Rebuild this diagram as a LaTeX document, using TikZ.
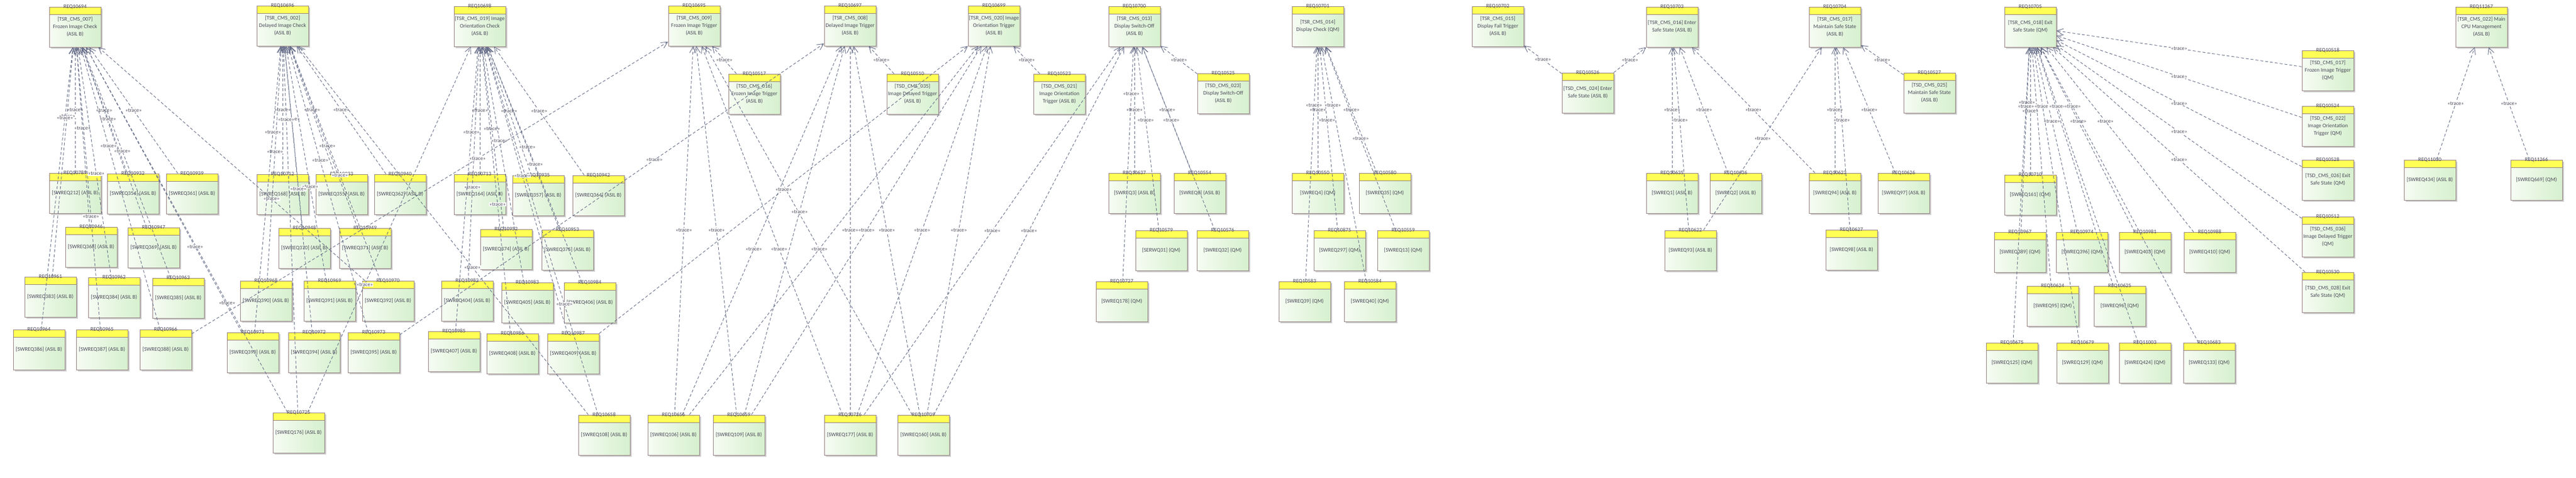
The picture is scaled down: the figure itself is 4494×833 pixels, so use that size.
\documentclass[tikz,border=0pt]{standalone}
\usepackage{fontspec}
\setmainfont{Carlito}
\usetikzlibrary{arrows.meta,shadows}
\definecolor{headyellow}{RGB}{255,255,85}
\definecolor{bodyL}{RGB}{246,252,243}
\definecolor{bodyR}{RGB}{214,240,206}
\definecolor{boxborder}{RGB}{150,130,130}
\definecolor{shadowgray}{RGB}{200,200,200}
\definecolor{edgecol}{RGB}{100,108,135}
\definecolor{txt}{RGB}{75,75,90}
\tikzset{
  reqbox/.style={rectangle, minimum width=90pt, minimum height=70pt, inner sep=0pt,
    draw=boxborder, line width=1pt, left color=bodyL, right color=bodyR,
    drop shadow={shadow xshift=3pt, shadow yshift=-3pt, fill=shadowgray, opacity=0.9},
    path picture={
      \fill[headyellow] (path picture bounding box.north west) rectangle ([yshift=-13pt]path picture bounding box.north east);
      \draw[boxborder, line width=1pt] ([yshift=-13pt]path picture bounding box.north west) -- ([yshift=-13pt]path picture bounding box.north east);
    }},
  ttl/.style={font=\fontsize{9.5}{11}\selectfont, text=txt, anchor=center, yshift=-0.5pt, inner sep=0pt},
  bdy/.style={font=\fontsize{9.5}{13}\selectfont, text=txt, anchor=center, yshift=-35pt, inner sep=0pt, align=center},
  trace/.style={draw=edgecol, line width=0.9pt, dash pattern=on 5pt off 3.5pt,
    -{Straight Barb[length=11pt, width=11pt, line width=0.9pt]}},
  tl/.style={font=\fontsize{9.2}{10}\selectfont, text=txt, fill=white, inner sep=0.6pt}
}
\newcommand{\req}[5]{\node[reqbox, label={[ttl]north:#1}, label={[bdy]north:{#5}}] (#2) at ({#3+45},{-#4-35}) {};}
\newcommand{\tr}[3][0.5]{\draw[trace] (#2) -- node[tl, pos=#1]{«trace»} (#3);}
\begin{document}
\begin{tikzpicture}[x=1pt, y=1pt]
\fill[white] (0,0) rectangle (4494,-833);
\useasboundingbox (0,0) rectangle (4494,-833);
% ---------- group A
\req{REQ10694}{r10694}{86}{12}{[TSR\_CMS\_007]\\Frozen Image Check\\(ASIL B)}
\req{REQ10789}{r10789}{86}{302}{[SWREQ212] (ASIL B)}
\req{REQ10932}{r10932}{187}{303}{[SWREQ354] (ASIL B)}
\req{REQ10939}{r10939}{290}{303}{[SWREQ361] (ASIL B)}
\req{REQ10946}{r10946}{114}{396}{[SWREQ368] (ASIL B)}
\req{REQ10947}{r10947}{223}{397}{[SWREQ369] (ASIL B)}
\req{REQ10961}{r10961}{43}{483}{[SWREQ383] (ASIL B)}
\req{REQ10962}{r10962}{154}{484}{[SWREQ384] (ASIL B)}
\req{REQ10963}{r10963}{266}{485}{[SWREQ385] (ASIL B)}
\req{REQ10964}{r10964}{23}{575}{[SWREQ386] (ASIL B)}
\req{REQ10965}{r10965}{133}{575}{[SWREQ387] (ASIL B)}
\req{REQ10966}{r10966}{244}{575}{[SWREQ388] (ASIL B)}
% ---------- group B
\req{REQ10696}{r10696}{448}{10}{[TSR\_CMS\_002]\\Delayed Image Check\\(ASIL B)}
\req{REQ10712}{r10712}{448}{304}{[SWREQ168] (ASIL B)}
\req{REQ10933}{r10933}{551}{304}{[SWREQ355] (ASIL B)}
\req{REQ10940}{r10940}{653}{304}{[SWREQ362] (ASIL B)}
\req{REQ10948}{r10948}{486}{398}{[SWREQ370] (ASIL B)}
\req{REQ10949}{r10949}{592}{398}{[SWREQ371] (ASIL B)}
\req{REQ10968}{r10968}{419}{490}{[SWREQ390] (ASIL B)}
\req{REQ10969}{r10969}{530}{490}{[SWREQ391] (ASIL B)}
\req{REQ10970}{r10970}{632}{490}{[SWREQ392] (ASIL B)}
\req{REQ10971}{r10971}{396}{580}{[SWREQ393] (ASIL B)}
\req{REQ10972}{r10972}{503}{580}{[SWREQ394] (ASIL B)}
\req{REQ10973}{r10973}{607}{580}{[SWREQ395] (ASIL B)}
\req{REQ10725}{r10725}{476}{720}{[SWREQ176] (ASIL B)}
% ---------- group C
\req{REQ10698}{r10698}{792}{11}{[TSR\_CMS\_019] Image\\Orientation Check\\(ASIL B)}
\req{REQ10713}{r10713}{792}{304}{[SWREQ164] (ASIL B)}
\req{REQ10935}{r10935}{894}{306}{[SWREQ357] (ASIL B)}
\req{REQ10942}{r10942}{999}{306}{[SWREQ364] (ASIL B)}
\req{REQ10952}{r10952}{838}{400}{[SWREQ374] (ASIL B)}
\req{REQ10953}{r10953}{945}{401}{[SWREQ375] (ASIL B)}
\req{REQ10982}{r10982}{770}{490}{[SWREQ404] (ASIL B)}
\req{REQ10983}{r10983}{875}{493}{[SWREQ405] (ASIL B)}
\req{REQ10984}{r10984}{984}{493}{[SWREQ406] (ASIL B)}
\req{REQ10985}{r10985}{747}{578}{[SWREQ407] (ASIL B)}
\req{REQ10986}{r10986}{849}{582}{[SWREQ408] (ASIL B)}
\req{REQ10987}{r10987}{955}{582}{[SWREQ409] (ASIL B)}
% ---------- triggers
\req{REQ10695}{r10695}{1166}{10}{[TSR\_CMS\_009]\\Frozen Image Trigger\\(ASIL B)}
\req{REQ10517}{r10517}{1271}{129}{[TSD\_CMS\_016]\\Frozen Image Trigger\\(ASIL B)}
\req{REQ10697}{r10697}{1438}{10}{[TSR\_CMS\_008]\\Delayed Image Trigger\\(ASIL B)}
\req{REQ10510}{r10510}{1547}{129}{[TSD\_CMS\_035]\\Image Delayed Trigger\\(ASIL B)}
\req{REQ10699}{r10699}{1689}{10}{[TSR\_CMS\_020] Image\\Orientation Trigger\\(ASIL B)}
\req{REQ10523}{r10523}{1803}{129}{[TSD\_CMS\_021]\\Image Orientation\\Trigger (ASIL B)}
\req{REQ10658}{r10658}{1009}{724}{[SWREQ108] (ASIL B)}
\req{REQ10656}{r10656}{1130}{724}{[SWREQ106] (ASIL B)}
\req{REQ10659}{r10659}{1244}{724}{[SWREQ109] (ASIL B)}
\req{REQ10726}{r10726}{1438}{724}{[SWREQ177] (ASIL B)}
\req{REQ10709}{r10709}{1566}{724}{[SWREQ160] (ASIL B)}
% ---------- display switch-off / check
\req{REQ10700}{r10700}{1934}{11}{[TSR\_CMS\_013]\\Display Switch-Off\\(ASIL B)}
\req{REQ10525}{r10525}{2089}{128}{[TSD\_CMS\_023]\\Display Switch-Off\\(ASIL B)}
\req{REQ10637}{r10637}{1934}{302}{[SWREQ3] (ASIL B)}
\req{REQ10554}{r10554}{2048}{302}{[SWREQ8] (ASIL B)}
\req{REQ10579}{r10579}{1981}{402}{[SERWQ31] (QM)}
\req{REQ10576}{r10576}{2088}{402}{[SWREQ32] (QM)}
\req{REQ10727}{r10727}{1912}{491}{[SWREQ178] (QM)}
\req{REQ10701}{r10701}{2254}{11}{[TSR\_CMS\_014]\\Display Check (QM)}
\req{REQ10550}{r10550}{2254}{302}{[SWREQ4] (QM)}
\req{REQ10580}{r10580}{2371}{302}{[SWREQ35] (QM)}
\req{REQ10875}{r10875}{2292}{402}{[SWREQ297] (QM)}
\req{REQ10559}{r10559}{2403}{402}{[SWREQ13] (QM)}
\req{REQ10583}{r10583}{2231}{491}{[SWREQ39] (QM)}
\req{REQ10584}{r10584}{2345}{491}{[SWREQ40] (QM)}
% ---------- safe state
\req{REQ10702}{r10702}{2568}{11}{[TSR\_CMS\_015]\\Display Fail Trigger\\(ASIL B)}
\req{REQ10526}{r10526}{2725}{127}{[TSD\_CMS\_024] Enter\\Safe State (ASIL B)}
\req{REQ10703}{r10703}{2872}{12}{[TSR\_CMS\_016] Enter\\Safe State (ASIL B)}
\req{REQ10635}{r10635}{2872}{302}{[SWREQ1] (ASIL B)}
\req{REQ10622}{r10622}{2904}{402}{[SWREQ93] (ASIL B)}
\req{REQ10704}{r10704}{3156}{12}{[TSR\_CMS\_017]\\Maintain Safe State\\(ASIL B)}
\req{REQ10527}{r10527}{3321}{127}{[TSD\_CMS\_025]\\Maintain Safe State\\(ASIL B)}
\req{REQ10636}{r10636}{2983}{302}{[SWREQ2] (ASIL B)}
\req{REQ10623}{r10623}{3156}{302}{[SWREQ94] (ASIL B)}
\req{REQ10626}{r10626}{3276}{302}{[SWREQ97] (ASIL B)}
\req{REQ10627}{r10627}{3185}{401}{[SWREQ98] (ASIL B)}
% ---------- exit safe state
\req{REQ10705}{r10705}{3497}{12}{[TSR\_CMS\_018] Exit\\Safe State (QM)}
\req{REQ10710}{r10710}{3497}{305}{[SWREQ161] (QM)}
\req{REQ10967}{r10967}{3479}{405}{[SWREQ389] (QM)}
\req{REQ10974}{r10974}{3587}{405}{[SWREQ396] (QM)}
\req{REQ10981}{r10981}{3697}{405}{[SWREQ403] (QM)}
\req{REQ10988}{r10988}{3810}{405}{[SWREQ410] (QM)}
\req{REQ10624}{r10624}{3536}{499}{[SWREQ95] (QM)}
\req{REQ10625}{r10625}{3653}{499}{[SWREQ96] (QM)}
\req{REQ10675}{r10675}{3465}{598}{[SWREQ125] (QM)}
\req{REQ10679}{r10679}{3588}{598}{[SWREQ129] (QM)}
\req{REQ11003}{r11003}{3697}{598}{[SWREQ424] (QM)}
\req{REQ10683}{r10683}{3809}{598}{[SWREQ133] (QM)}
\req{REQ10518}{r10518}{4016}{88}{[TSD\_CMS\_017]\\Frozen Image Trigger\\(QM)}
\req{REQ10524}{r10524}{4016}{185}{[TSD\_CMS\_022]\\Image Orientation\\Trigger (QM)}
\req{REQ10528}{r10528}{4016}{279}{[TSD\_CMS\_026] Exit\\Safe State (QM)}
\req{REQ10512}{r10512}{4016}{378}{[TSD\_CMS\_036]\\Image Delayed Trigger\\(QM)}
\req{REQ10530}{r10530}{4016}{475}{[TSD\_CMS\_028] Exit\\Safe State (QM)}
% ---------- CPU management
\req{REQ11267}{r11267}{4284}{12}{[TSR\_CMS\_022] Main\\CPU Management\\(ASIL B)}
\req{REQ11030}{r11030}{4194}{279}{[SWREQ434] (ASIL B)}
\req{REQ11266}{r11266}{4380}{279}{[SWREQ669] (QM)}
% ================= connectors
% to REQ10694
\tr{r10789}{r10694}
\tr{r10932}{r10694}
\tr{r10939}{r10694}
\tr[0.55]{r10946}{r10694}
\tr[0.6]{r10947}{r10694}
\tr[0.7]{r10961}{r10694}
\tr[0.45]{r10962}{r10694}
\tr[0.55]{r10963}{r10694}
\tr[0.75]{r10964}{r10694}
\tr[0.4]{r10965}{r10694}
\tr[0.65]{r10966}{r10694}
\tr[0.3]{r10725}{r10694}
\tr[0.35]{r10970}{r10694}
\tr[0.3]{r10971}{r10694}
% to REQ10696
\tr{r10712}{r10696}
\tr{r10933}{r10696}
\tr{r10940}{r10696}
\tr[0.6]{r10948}{r10696}
\tr[0.45]{r10949}{r10696}
\tr[0.55]{r10968}{r10696}
\tr[0.4]{r10969}{r10696}
\tr[0.7]{r10971}{r10696}
\tr[0.5]{r10972}{r10696}
\tr[0.6]{r10973}{r10696}
\tr[0.8]{r10725}{r10696}
\tr[0.45]{r10970}{r10696}
\tr[0.4]{r10658}{r10696}
% to REQ10698
\tr{r10713}{r10698}
\tr{r10935}{r10698}
\tr{r10942}{r10698}
\tr[0.55]{r10952}{r10698}
\tr[0.45]{r10953}{r10698}
\tr[0.4]{r10982}{r10698}
\tr[0.6]{r10983}{r10698}
\tr[0.5]{r10984}{r10698}
\tr[0.7]{r10985}{r10698}
\tr[0.45]{r10986}{r10698}
\tr[0.55]{r10987}{r10698}
\tr[0.35]{r10725}{r10698}
\tr[0.3]{r10658}{r10698}
% to REQ10695
\tr{r10517}{r10695}
\tr{r10656}{r10695}
\tr{r10659}{r10695}
\tr[0.45]{r10726}{r10695}
\tr[0.55]{r10709}{r10695}
\tr[0.6]{r10966}{r10695}
% to REQ10697
\tr{r10510}{r10697}
\tr{r10726}{r10697}
\tr{r10709}{r10697}
\tr[0.45]{r10656}{r10697}
\tr[0.55]{r10659}{r10697}
\tr[0.6]{r10973}{r10697}
% to REQ10699
\tr{r10523}{r10699}
\tr[0.5]{r10987}{r10699}
\tr[0.45]{r10656}{r10699}
\tr[0.5]{r10659}{r10699}
\tr[0.5]{r10726}{r10699}
\tr[0.5]{r10709}{r10699}
% to REQ10700
\tr{r10525}{r10700}
\tr{r10637}{r10700}
\tr{r10554}{r10700}
\tr[0.6]{r10579}{r10700}
\tr[0.6]{r10576}{r10700}
\tr[0.8]{r10727}{r10700}
\tr[0.5]{r10726}{r10700}
\tr[0.5]{r10709}{r10700}
% to REQ10701
\tr{r10550}{r10701}
\tr{r10580}{r10701}
\tr[0.6]{r10875}{r10701}
\tr[0.5]{r10559}{r10701}
\tr[0.75]{r10583}{r10701}
\tr[0.75]{r10584}{r10701}
% safe state
\tr{r10526}{r10702}
\tr{r10526}{r10703}
\tr{r10635}{r10703}
\tr[0.6]{r10622}{r10703}
\tr[0.5]{r10636}{r10703}
\tr[0.5]{r10623}{r10703}
\tr{r10527}{r10704}
\tr{r10623}{r10704}
\tr[0.6]{r10627}{r10704}
\tr{r10626}{r10704}
\tr[0.5]{r10622}{r10704}
% to REQ10705
\tr{r10710}{r10705}
\tr[0.7]{r10967}{r10705}
\tr[0.6]{r10974}{r10705}
\tr[0.6]{r10981}{r10705}
\tr[0.6]{r10988}{r10705}
\tr[0.75]{r10624}{r10705}
\tr[0.75]{r10625}{r10705}
\tr[0.8]{r10675}{r10705}
\tr[0.8]{r10679}{r10705}
\tr[0.8]{r11003}{r10705}
\tr[0.8]{r10683}{r10705}
\tr{r10518}{r10705}
\tr{r10524}{r10705}
\tr{r10528}{r10705}
\tr{r10512}{r10705}
\tr{r10530}{r10705}
% to REQ11267
\tr{r11030}{r11267}
\tr{r11266}{r11267}
\end{tikzpicture}
\end{document}
